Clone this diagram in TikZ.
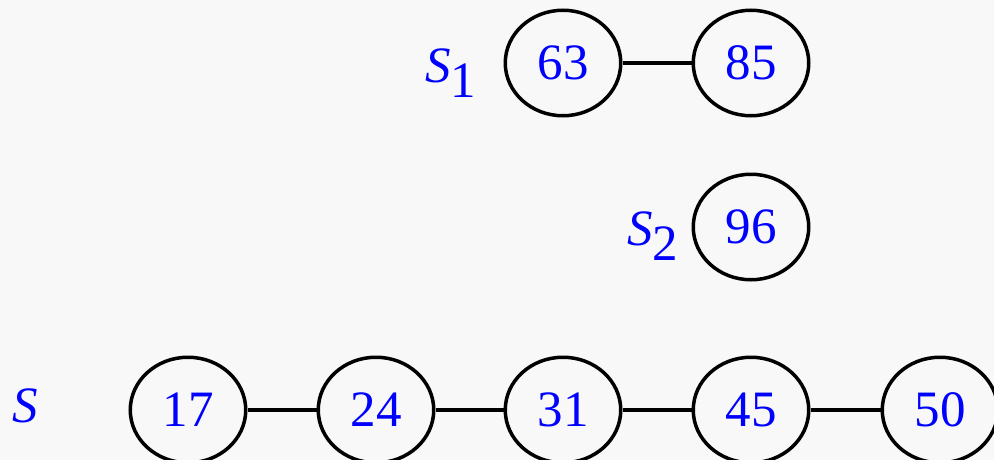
\documentclass[tikz,border=0pt]{standalone}
\usepackage{fontspec}
\setmainfont{Liberation Serif}
\usetikzlibrary{shapes.geometric}
\definecolor{bgc}{RGB}{248,248,248}
\definecolor{txt}{RGB}{0,0,255}
\tikzset{
  elem/.style={ellipse, draw=black, line width=3.5pt, minimum width=115.5pt, minimum height=105.5pt, inner sep=0pt, text=txt, font=\fontsize{51}{51}\selectfont},
  lbl/.style={anchor=base west, inner sep=0pt, text=txt, font=\fontsize{51}{51}\selectfont},
  link/.style={line width=3.5pt}
}
\newcommand{\subl}[1]{\raisebox{-15pt}{\upshape #1}}
\begin{document}
\begin{tikzpicture}[x=1pt,y=-1pt]
\fill[bgc] (0,0) rectangle (994,460);
\useasboundingbox (0,0) rectangle (994,460);
\node[elem] (a63) at (563,63) {63};
\node[elem] (a85) at (751,63) {85};
\node[elem] (b96) at (751,227) {96};
\node[elem] (c17) at (188,410) {17};
\node[elem] (c24) at (376,410) {24};
\node[elem] (c31) at (563,410) {31};
\node[elem] (c45) at (751,410) {45};
\node[elem] (c50) at (940,410) {50};
\node[lbl] (l1) at (425,82) {\textit{S}\subl{1}};
\node[lbl] (l2) at (627,245) {\textit{S}\subl{2}};
\node[lbl] (l0) at (12,422) {\textit{S}};
\draw[link] (a63) -- (a85);
\draw[link] (c17) -- (c24);
\draw[link] (c24) -- (c31);
\draw[link] (c31) -- (c45);
\draw[link] (c45) -- (c50);
\end{tikzpicture}
\end{document}
